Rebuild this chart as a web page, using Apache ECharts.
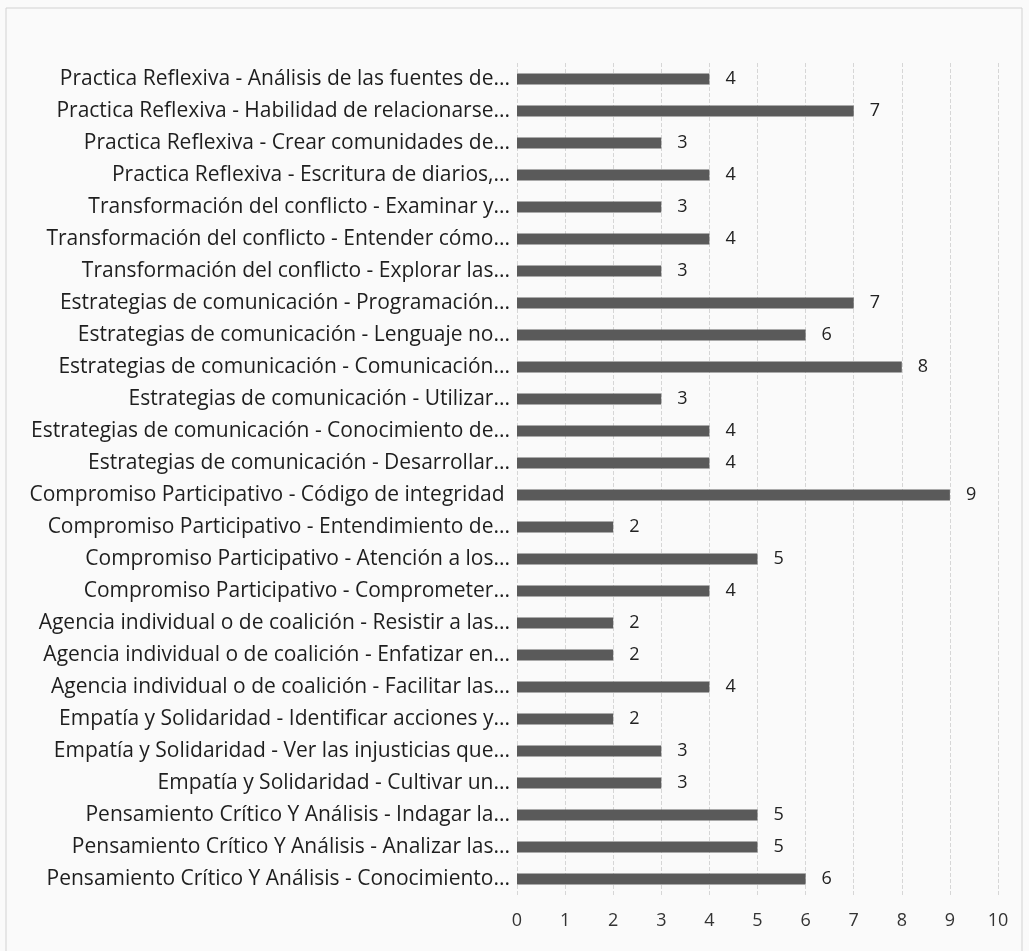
<!DOCTYPE html>
<html>
<head>
<meta charset="utf-8">
<script src="https://cdn.jsdelivr.net/npm/echarts@6/dist/echarts.min.js"></script>
<style>
  html, body { margin: 0; padding: 0; background: #fafafa; }
  #chart { width: 1029px; height: 951px; }
</style>
</head>
<body>
<div id="chart"></div>
<script>
// Competency items, listed top to bottom
const categories = [
  'Practica Reflexiva - Análisis de las fuentes de...',
  'Practica Reflexiva - Habilidad de relacionarse...',
  'Practica Reflexiva - Crear comunidades de...',
  'Practica Reflexiva - Escritura de diarios,...',
  'Transformación del conflicto - Examinar y...',
  'Transformación del conflicto - Entender cómo...',
  'Transformación del conflicto - Explorar las...',
  'Estrategias de comunicación - Programación...',
  'Estrategias de comunicación - Lenguaje no...',
  'Estrategias de comunicación - Comunicación...',
  'Estrategias de comunicación - Utilizar...',
  'Estrategias de comunicación - Conocimiento de...',
  'Estrategias de comunicación - Desarrollar...',
  'Compromiso Participativo - Código de integridad ',
  'Compromiso Participativo - Entendimiento de...',
  'Compromiso Participativo - Atención a los...',
  'Compromiso Participativo - Comprometer...',
  'Agencia individual o de coalición - Resistir a las...',
  'Agencia individual o de coalición - Enfatizar en...',
  'Agencia individual o de coalición - Facilitar las...',
  'Empatía y Solidaridad - Identificar acciones y...',
  'Empatía y Solidaridad - Ver las injusticias que...',
  'Empatía y Solidaridad - Cultivar un...',
  'Pensamiento Crítico Y Análisis - Indagar la...',
  'Pensamiento Crítico Y Análisis - Analizar las...',
  'Pensamiento Crítico Y Análisis - Conocimiento...'
];

// Count per item
const counts = [4, 7, 3, 4, 3, 4, 3, 7, 6, 8, 3, 4, 4, 9, 2, 5, 4, 2, 2, 4, 2, 3, 3, 5, 5, 6];

// Value axis range
const axisMin = 0;
const axisMax = 10;
const axisStep = 1;

const FONT = '"Open Sans", "DejaVu Sans", sans-serif';

const chart = echarts.init(document.getElementById('chart'), null, { renderer: 'canvas' });

chart.setOption({
  backgroundColor: '#fafafa',
  animation: false,
  graphic: [
    {
      type: 'rect',
      silent: true,
      shape: { x: 6, y: 8, width: 1016, height: 960 },
      style: { fill: 'none', stroke: '#d2d2d2', lineWidth: 1 }
    }
  ],
  grid: {
    left: 517,
    right: 31,
    top: 63,
    bottom: 56,
    containLabel: false
  },
  xAxis: {
    type: 'value',
    min: axisMin,
    max: axisMax,
    interval: axisStep,
    axisLine: { show: false },
    axisTick: { show: false },
    axisLabel: {
      color: '#333',
      fontFamily: FONT,
      fontSize: 18,
      margin: 17
    },
    splitLine: {
      show: true,
      lineStyle: { color: '#d6d6d6', width: 1, type: [4, 2] }
    }
  },
  yAxis: {
    type: 'category',
    data: categories,
    inverse: true,
    axisLine: { show: false },
    axisTick: { show: false },
    axisLabel: {
      color: '#1e1e1e',
      fontFamily: FONT,
      fontSize: 21,
      margin: 7
    },
    splitLine: { show: false }
  },
  series: [
    {
      type: 'bar',
      data: counts,
      barWidth: 11,
      itemStyle: { color: '#5a5a5a' },
      label: {
        show: true,
        position: 'right',
        distance: 16,
        color: '#222',
        fontFamily: FONT,
        fontSize: 18
      }
    }
  ]
});
</script>
</body>
</html>
